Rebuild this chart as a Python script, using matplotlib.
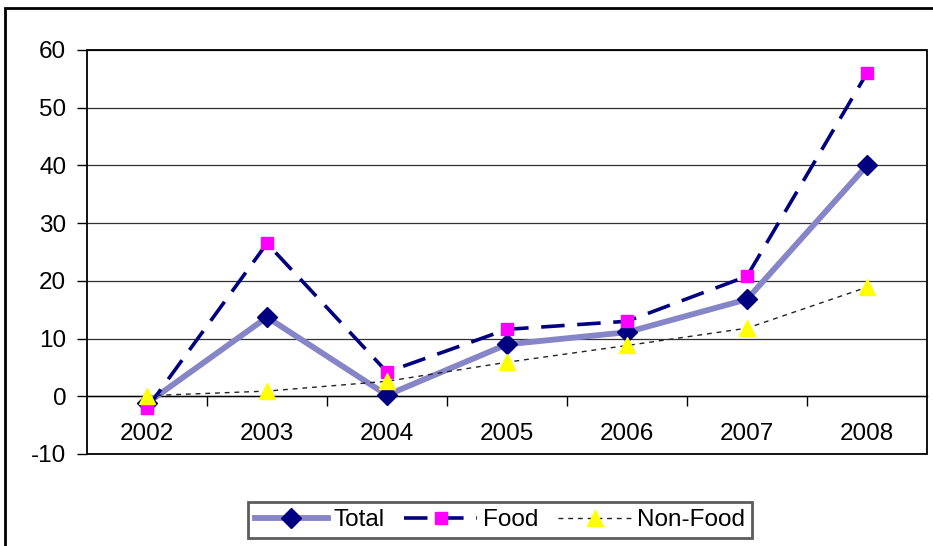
import matplotlib
matplotlib.use("Agg")
import matplotlib.pyplot as plt
from matplotlib.patches import Rectangle
from matplotlib.ticker import MultipleLocator, FixedLocator

plt.rcParams['font.family'] = ['Liberation Sans', 'DejaVu Sans']
plt.rcParams['axes.unicode_minus'] = False

years = ['2002', '2003', '2004', '2005', '2006', '2007', '2008']
total = [-1.2, 13.7, 0.2, 9.0, 11.1, 16.8, 40.0]
food = [-2.1, 26.5, 4.2, 11.6, 13.0, 20.8, 56.0]
nonfood = [0.1, 0.9, 2.6, 5.9, 8.8, 11.8, 18.9]

W, H = 933, 546
fig = plt.figure(figsize=(W / 100, H / 100), dpi=100)
ax = fig.add_axes([87 / W, (H - 454) / H, 840 / W, 404 / H])

FS = 17.5
x = list(range(len(years)))
ax.plot(x, total, color='#8585C8', lw=4.2, marker='D', markersize=10,
        markerfacecolor='#000080', markeredgecolor='#000080', label='Total', zorder=3)
ax.plot(x, food, color='#000080', lw=2.6, dashes=(6.5, 3.5), marker='s', markersize=8,
        markerfacecolor='#FF00FF', markeredgecolor='#FF00FF', label='Food', zorder=4)
ax.plot(x, nonfood, color='#222222', lw=1.0, dashes=(3.5, 3.5), marker='^', markersize=11,
        markerfacecolor='#FFFF00', markeredgecolor='#FFFF00', label='Non-Food', zorder=5)

ax.set_xlim(-0.5, len(years) - 0.5)
ax.set_ylim(-10, 60)
ax.yaxis.set_major_locator(MultipleLocator(10))
ax.tick_params(axis='y', direction='out', length=7, width=1, labelsize=FS, pad=8, color='black')
ax.yaxis.grid(True, color='#303030', lw=0.9)
ax.set_axisbelow(True)

# x axis at zero
for s in ['top', 'right', 'left']:
    ax.spines[s].set_visible(False)
ax.spines['bottom'].set_position(('data', 0))
ax.spines['bottom'].set_linewidth(1.0)
ax.set_xticks(x)
ax.set_xticklabels(years)
ax.xaxis.set_minor_locator(FixedLocator([i + 0.5 for i in range(len(years) - 1)]))
ax.tick_params(axis='x', which='major', length=0, labelsize=FS, pad=19)
ax.tick_params(axis='x', which='minor', length=7, width=1, direction='out')

# plot area frame
ax.add_patch(Rectangle((0, 0), 1, 1, transform=ax.transAxes, fill=False,
                       edgecolor='black', lw=1.3, clip_on=False, zorder=6))

# outer chart border
fig.patches.append(Rectangle((5 / W, -0.1), 2, (H - 8) / H + 0.1, transform=fig.transFigure,
                             fill=False, edgecolor='black', lw=2.0))

leg = fig.legend(loc='center', bbox_to_anchor=(500 / W, 1 - 520 / H), ncol=3,
                 fontsize=FS, frameon=True, fancybox=False, edgecolor='#333333',
                 handlelength=3.0, handletextpad=0.25, columnspacing=0.8,
                 borderpad=0.3)
leg.get_frame().set_linewidth(2.0)

fig.savefig('out.png', dpi=100)
